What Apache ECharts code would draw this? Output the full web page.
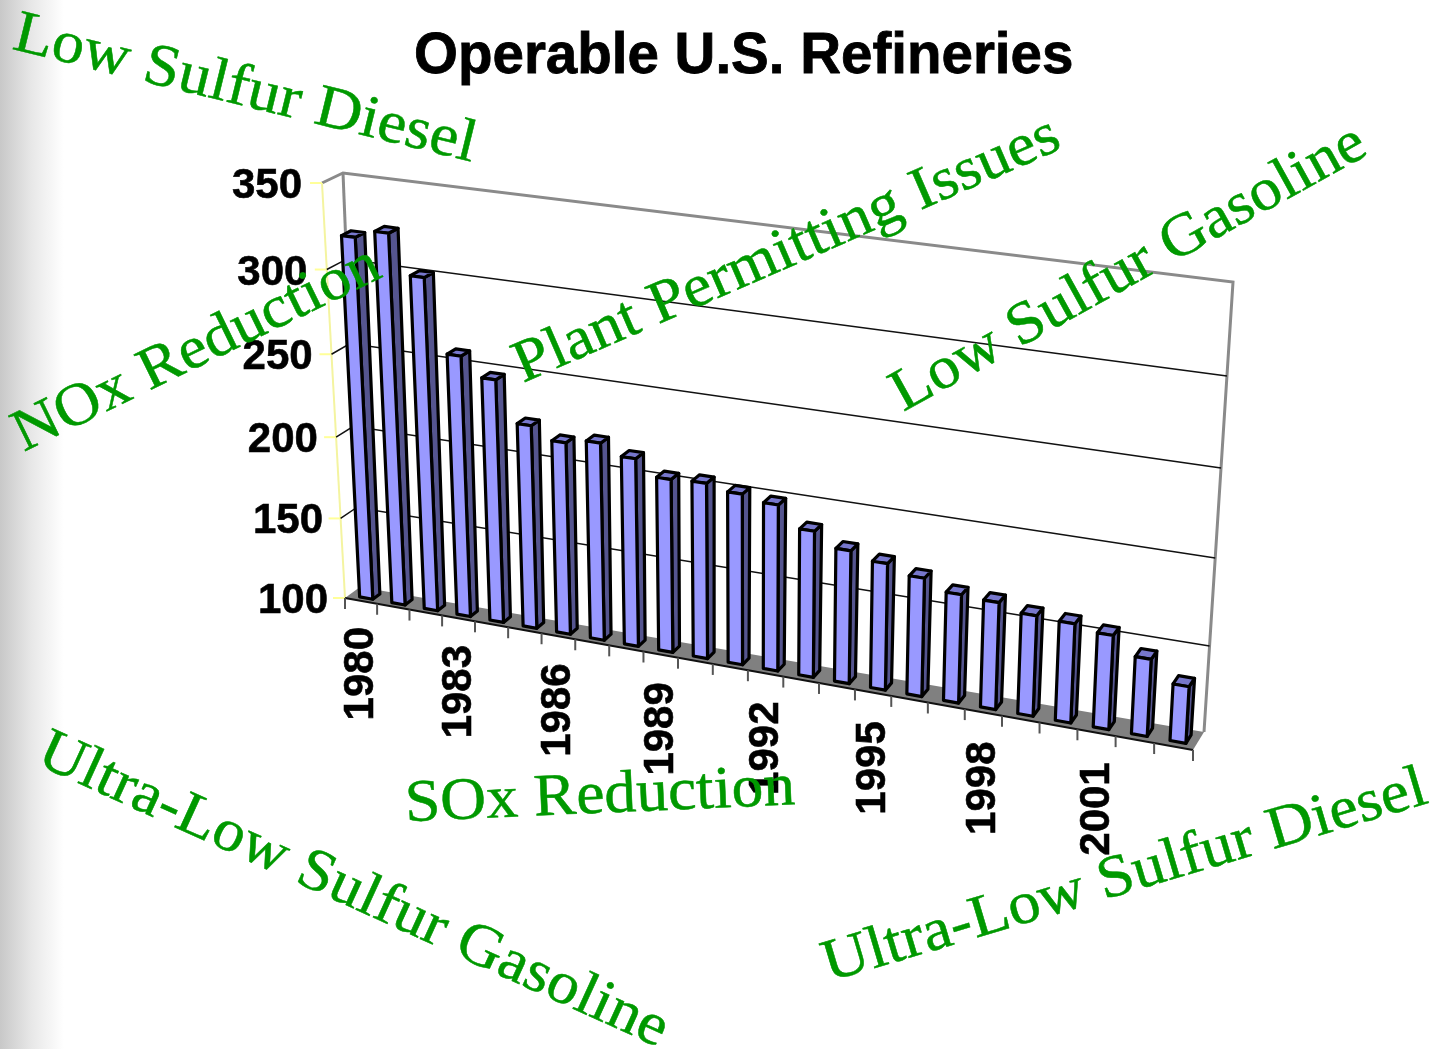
<!DOCTYPE html>
<html>
<head>
<meta charset="utf-8">
<title>Operable U.S. Refineries</title>
<script src="https://cdn.jsdelivr.net/npm/echarts@6/dist/echarts.min.js"></script>
<style>
  html, body { margin: 0; padding: 0; background: #fff; }
  #chart { width: 1450px; height: 1049px; }
</style>
</head>
<body>
<div id="chart"></div>
<script>
var years = ['1980','1981','1982','1983','1984','1985','1986','1987','1988','1989','1990','1991',
             '1992','1993','1994','1995','1996','1997','1998','1999','2000','2001','2002','2003'];
var refineries = [319,324,301,258,247,223,216,219,213,204,205,202,199,187,179,175,170,164,163,159,158,155,145,133];
var yTicks = [100,150,200,250,300,350];
var yearLabels = ['1980','1983','1986','1989','1992','1995','1998','2001'];
var overlayTexts = ['Low Sulfur Diesel','Plant Permitting Issues','Low Sulfur Gasoline','NOx Reduction',
                    'SOx Reduction','Ultra-Low Sulfur Gasoline','Ultra-Low Sulfur Diesel'];

// where each overlay text sits: centre x, centre y, angle in degrees, horizontal stretch
var overlayPlace = [
    [245, 90, -13.8, 1.07],
    [787, 251, 23.5, 1.065],
    [1129, 269, 29, 1.06],
    [197, 350, 26, 1.06],
    [600, 797, 2.5, 1.06],
    [353, 891, -24.5, 1.06],
    [1125, 877, 16.6, 1.07]
];

// corners of the tilted box: bl, br, tr, tl
var frontQuad = [[345,598],[1193,750],[1218,298],[322,183]];
var backQuad = [[360,587],[1204,732],[1233,282],[343,173]];

// unit square to quad, perspective
function homography(q) {
    var x0=q[0][0],y0=q[0][1],x1=q[1][0],y1=q[1][1],x2=q[2][0],y2=q[2][1],x3=q[3][0],y3=q[3][1];
    var dx1=x1-x2,dx2=x3-x2,sx=x0-x1+x2-x3;
    var dy1=y1-y2,dy2=y3-y2,sy=y0-y1+y2-y3;
    var det=dx1*dy2-dx2*dy1;
    var g=(sx*dy2-dx2*sy)/det;
    var h=(dx1*sy-sx*dy1)/det;
    var a=x1-x0+g*x1,b=x3-x0+h*x3,d=y1-y0+g*y1,e=y3-y0+h*y3;
    return function(u,v){
        var w=g*u+h*v+1;
        return [(a*u+b*v+x0)/w,(d*u+e*v+y0)/w];
    };
}
var frontH = homography(frontQuad);
var backH = homography(backQuad);

// u along the years, v up the value axis, z into the chart (0 front, 1 back)
function project(u,v,z){
    var f=frontH(u,v),b=backH(u,v);
    return [f[0]+(b[0]-f[0])*z,f[1]+(b[1]-f[1])*z];
}
function toUnit(params,p){
    var c=params.coordSys;
    return [(p[0]-c.x)/c.width,(c.y+c.height-p[1])/c.height];
}

var barFrac = 0.41, barShift = 0.0015, zNear = 0.27, zFar = 0.74;
var labelFont = 'bold 42px "Liberation Sans"';

function renderBar(params,api){
    var cat=api.value(0),val=api.value(1);
    var bw=api.size([1,0])[0]*barFrac;
    var top=toUnit(params,api.coord([cat,val]));
    var bottom=toUnit(params,api.coord([cat,yTicks[0]]));
    var du=bw/params.coordSys.width/2;
    var u0=top[0]-du+barShift,u1=top[0]+du+barShift,vt=top[1],vb=bottom[1];
    var line={stroke:'#000',lineWidth:3.2,lineJoin:'round'};
    function poly(pts,fill){
        return {type:'polygon',shape:{points:pts},style:Object.assign({fill:fill},line)};
    }
    return {type:'group',children:[
        poly([project(u1,vb,zNear),project(u1,vb,zFar),project(u1,vt,zFar),project(u1,vt,zNear)],'#55558f'),
        poly([project(u0,vt,zNear),project(u1,vt,zNear),project(u1,vt,zFar),project(u0,vt,zFar)],'#7777cc'),
        poly([project(u0,vb,zNear),project(u1,vb,zNear),project(u1,vt,zNear),project(u0,vt,zNear)],'#9999ff')
    ]};
}

// value gridlines on back wall and side wall, plus the y tick and its label
function renderValueLine(params,api){
    var t=api.value(0);
    var v=toUnit(params,api.coord([0,t]))[1];
    var f=project(0,v,0),b=project(0,v,1),r=project(1,v,1);
    var kids=[
        {type:'line',shape:{x1:f[0]-12,y1:f[1],x2:f[0],y2:f[1]},style:{stroke:'#ffff99',lineWidth:2}},
        {type:'text',x:f[0]-20+(1-v)*3,y:f[1]+3.5,style:{text:String(t),font:labelFont,fill:'#000',stroke:'#000',lineWidth:0.6,align:'right',verticalAlign:'middle'}}
    ];
    if(t>yTicks[0] && t<yTicks[yTicks.length-1]){
        kids.push({type:'polyline',shape:{points:[f,b,r]},style:{stroke:'#111',lineWidth:1.5,fill:null}});
    }
    return {type:'group',children:kids};
}

function renderFrame(params){
    var floor=[project(0,0,0),project(1,0,0),project(1,0,1),project(0,0,1)];
    return {type:'group',children:[
        {type:'polygon',shape:{points:floor},style:{fill:'#808080'}},
        {type:'polyline',shape:{points:[project(0,1,0),project(0,1,1),project(1,1,1),project(1,0,1)]},
            style:{stroke:'#8a8a8a',lineWidth:3,fill:null}},
        {type:'line',shape:{x1:project(0,1,1)[0],y1:project(0,1,1)[1],x2:project(0,0,1)[0],y2:project(0,0,1)[1]},
            style:{stroke:'#8a8a8a',lineWidth:3}},
        {type:'line',shape:{x1:project(0,0,0)[0],y1:project(0,0,0)[1],x2:project(0,1,0)[0],y2:project(0,1,0)[1]},
            style:{stroke:'#f4f4a0',lineWidth:2}},
        {type:'line',shape:{x1:project(0,0,0)[0],y1:project(0,0,0)[1],x2:project(1,0,0)[0],y2:project(1,0,0)[1]},
            style:{stroke:'#111',lineWidth:2}}
    ]};
}

function renderYearTick(params,api){
    var cat=api.value(0);
    var bw=api.size([1,0])[0];
    var mid=toUnit(params,api.coord([cat,yTicks[0]]));
    var du=bw/params.coordSys.width/2;
    var kids=[];
    function tick(u){
        var p=project(u,0,0);
        kids.push({type:'line',shape:{x1:p[0],y1:p[1],x2:p[0],y2:p[1]+11},style:{stroke:'#555',lineWidth:2}});
    }
    tick(mid[0]-du);
    if(params.dataIndex===years.length-1) tick(mid[0]+du);
    if(yearLabels.indexOf(years[cat])>=0){
        var c=project(mid[0],0,0);
        kids.push({type:'text',x:c[0]+0.5,y:c[1]+26+mid[0]*4,rotation:Math.PI/2,
            style:{text:years[cat],font:labelFont,fill:'#000',stroke:'#000',lineWidth:0.6,align:'right',verticalAlign:'middle'}});
    }
    return {type:'group',children:kids};
}

var overlay = overlayTexts.map(function(txt,i){
    var p=overlayPlace[i];
    return {type:'text',x:p[0],y:p[1],rotation:p[2]*Math.PI/180,scaleX:p[3],z:50,silent:true,
        style:{text:txt,font:'60px "Liberation Serif"',fill:'#009900',stroke:'#009900',lineWidth:0.5,align:'center',verticalAlign:'middle'}};
});
overlay.unshift({type:'rect',shape:{x:0,y:0,width:64,height:1049},z:-1,silent:true,
    style:{fill:new echarts.graphic.LinearGradient(0,0,1,0,[{offset:0,color:'#c8c8c8'},{offset:0.5,color:'#e8e8e8'},{offset:1,color:'#ffffff'}])}});

var myChart = echarts.init(document.getElementById('chart'),null,{renderer:'canvas'});
var option = {
    animation:false,
    backgroundColor:'#fff',
    title:{text:'Operable U.S. Refineries',left:409,top:24,
        textStyle:{fontFamily:'Liberation Sans',fontWeight:'bold',fontSize:56.5,color:'#000',textBorderColor:'#000',textBorderWidth:0.8}},
    grid:{left:345,top:173,width:860,height:425},
    xAxis:{type:'category',data:years,show:false},
    yAxis:{type:'value',min:100,max:350,interval:50,show:false},
    graphic:overlay,
    series:[
        {type:'custom',name:'frame',silent:true,z:1,renderItem:renderFrame,data:[[0]],encode:{x:-1,y:-1}},
        {type:'custom',name:'values',silent:true,z:2,renderItem:renderValueLine,data:yTicks.map(function(t){return [t];}),encode:{x:-1,y:-1}},
        {type:'custom',name:'years',silent:true,z:3,renderItem:renderYearTick,data:years.map(function(y,i){return [i];}),encode:{x:-1,y:-1}},
        {type:'custom',name:'Operable refineries',silent:true,z:5,renderItem:renderBar,
            data:refineries.map(function(v,i){return [i,v];}),encode:{x:0,y:1}}
    ]
};
option && myChart.setOption(option);
</script>
</body>
</html>
